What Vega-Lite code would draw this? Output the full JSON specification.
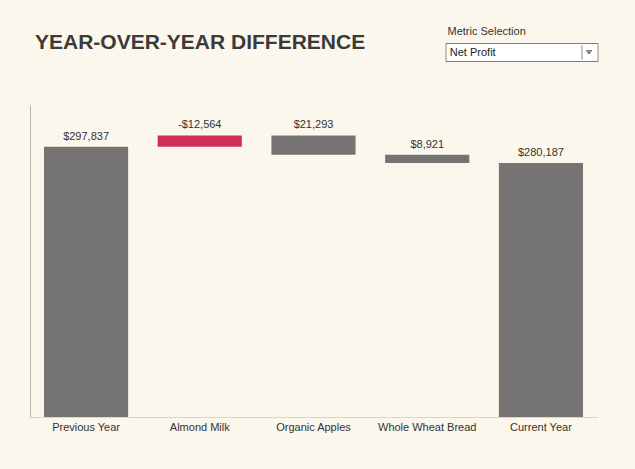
{
  "$schema": "https://vega.github.io/schema/vega-lite/v6.json",
  "autosize": {"type": "none"},
  "padding": {"left": 30, "top": 105, "right": 38, "bottom": 52},
  "width": 567,
  "height": 312,
  "background": "#FCF7ED",
  "config": {
    "view": {"stroke": null},
    "font": "Liberation Sans"
  },
  "title": {
    "text": "YEAR-OVER-YEAR DIFFERENCE",
    "anchor": "start",
    "frame": "group",
    "fontSize": 21,
    "font": "Liberation Sans",
    "fontWeight": "bold",
    "color": "#3a3a3a",
    "dx": 5,
    "offset": -26.5
  },
  "data": {
    "values": [
      {"step": "Previous Year", "start": 0, "end": 297837, "label": "$297,837", "kind": "total", "metric": "Net Profit"},
      {"step": "Almond Milk", "start": 297837, "end": 310401, "label": "-$12,564", "kind": "decrease", "metric": "Net Profit"},
      {"step": "Organic Apples", "start": 310401, "end": 289108, "label": "$21,293", "kind": "increase", "metric": "Net Profit"},
      {"step": "Whole Wheat Bread", "start": 289108, "end": 280187, "label": "$8,921", "kind": "increase", "metric": "Net Profit"},
      {"step": "Current Year", "start": 0, "end": 280187, "label": "$280,187", "kind": "total", "metric": "Net Profit"}
    ]
  },
  "encoding": {
    "x": {
      "field": "step",
      "type": "nominal",
      "sort": null,
      "scale": {"paddingInner": 0.26, "paddingOuter": 0.123},
      "axis": {
        "title": null,
        "labelAngle": 0,
        "ticks": false,
        "labelPadding": 4,
        "labelFontSize": 11,
        "labelColor": "#333333",
        "labelFont": "Liberation Sans",
        "domainColor": "#d9d5cd",
        "grid": false
      }
    }
  },
  "layer": [
    {
      "mark": {"type": "bar"},
      "encoding": {
        "y": {
          "field": "start",
          "type": "quantitative",
          "scale": {"domain": [0, 344000], "nice": false},
          "axis": {"title": null, "labels": false, "ticks": false, "grid": false, "domainColor": "#b8b6b2"}
        },
        "y2": {"field": "end"},
        "color": {
          "field": "kind",
          "type": "nominal",
          "scale": {"domain": ["total", "decrease", "increase"], "range": ["#767473", "#D12E57", "#767473"]},
          "legend": null
        },
        "strokeDash": {
          "field": "metric",
          "type": "nominal",
          "legend": {
            "title": "Metric Selection",
            "orient": "none",
            "legendX": 417.5,
            "legendY": -79,
            "padding": 0,
            "titleFontSize": 11,
            "titleFontWeight": "normal",
            "titleColor": "#333333",
            "titleFont": "Liberation Sans",
            "titlePadding": 10,
            "labelFontSize": 11,
            "labelColor": "#222222",
            "labelFont": "Liberation Sans",
            "labelOffset": -8.7,
            "symbolType": "M-7,-9H145V9H-7Z M129,-7V7 M133,-2H139 M133.5,-1H138.5 M134,0H138 M135,1H137",
            "symbolSize": 4,
            "symbolFillColor": "white",
            "symbolStrokeColor": "#8a8a8a",
            "symbolStrokeWidth": 1,
            "symbolDash": [],
            "encode": {
              "symbols": {
                "update": {
                  "fill": {"value": "white"},
                  "stroke": {"value": "#7c7c7c"},
                  "strokeWidth": {"value": 1},
                  "opacity": {"value": 1}
                }
              }
            }
          }
        }
      }
    },
    {
      "transform": [
        {"fold": ["start", "end"], "as": ["edge", "v"]}
      ],
      "mark": {"type": "text", "dy": -7, "baseline": "alphabetic", "fontSize": 11, "color": "#333333", "font": "Liberation Sans"},
      "encoding": {
        "y": {"field": "v", "type": "quantitative", "aggregate": "max"},
        "text": {"field": "label", "type": "nominal"}
      }
    }
  ]
}
